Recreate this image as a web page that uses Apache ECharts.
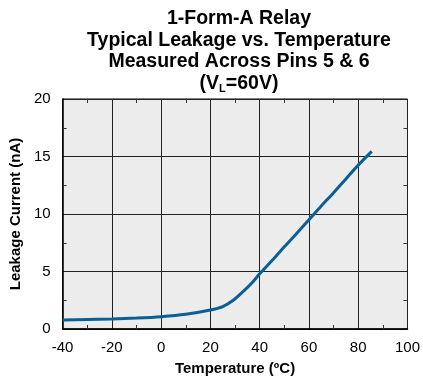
<!DOCTYPE html>
<html>
<head>
<meta charset="utf-8">
<script src="https://cdn.jsdelivr.net/npm/echarts@6/dist/echarts.min.js"></script>
<style>
  html, body { margin: 0; padding: 0; background: #fff; }
  #chart { width: 423px; height: 383px; }
</style>
</head>
<body>
<div id="chart"></div>
<script>
// temperature (C) and leakage current (nA)
const temps = [-40, -30, -20, -10, 0, 10, 20, 25, 29, 33, 37, 40, 45, 50, 55, 60, 65, 70, 75, 80, 85.5]
const leakage = [0.78, 0.83, 0.87, 0.95, 1.07, 1.28, 1.65, 1.95, 2.45, 3.2, 4.05, 4.8, 5.95, 7.15, 8.3, 9.5, 10.7, 11.85, 13.05, 14.25, 15.45]
const xTicks = [-40, -20, 0, 20, 40, 60, 80, 100]
const yTicks = [0, 5, 10, 15, 20]

const font = 'Liberation Sans, Arial, Helvetica, sans-serif'
const myChart = echarts.init(document.getElementById('chart'))

const option = {
  animation: false,
  title: {
    text: '1-Form-A Relay\nTypical Leakage vs. Temperature\nMeasured Across Pins 5 & 6\n(V{sub|L}=60V)',
    left: 234,
    top: 3,
    textAlign: 'center',
    textStyle: {
      fontFamily: font,
      fontSize: 19.5,
      fontWeight: 'bold',
      color: '#000',
      lineHeight: 21.5,
      rich: {
        sub: {
          fontFamily: font,
          fontSize: 11,
          fontWeight: 'bold',
          color: '#000',
          verticalAlign: 'bottom',
          padding: [12, 0, 0, 0]
        }
      }
    }
  },
  grid: {
    left: 62,
    right: 15,
    top: 99,
    bottom: 54,
    show: true,
    backgroundColor: '#ececec',
    borderColor: '#000',
    borderWidth: 1
  },
  xAxis: [
    {
      type: 'value',
      min: xTicks[0],
      max: xTicks[xTicks.length - 1],
      interval: 20,
      name: 'Temperature (ºC)',
      nameLocation: 'middle',
      nameGap: 32,
      nameTextStyle: { fontFamily: font, fontSize: 15, fontWeight: 'bold', color: '#000' },
      axisLine: { show: true, onZero: false, lineStyle: { color: '#000', width: 1.5 } },
      axisTick: { show: false, inside: true },
      minorTick: { show: true, splitNumber: 2, length: 4, lineStyle: { color: '#333' } },
      axisLabel: { fontFamily: font, fontSize: 15, color: '#000', margin: 11 },
      splitLine: { show: true, lineStyle: { color: '#222', width: 1 } }
    },
    {
      type: 'value',
      position: 'top',
      min: xTicks[0],
      max: xTicks[xTicks.length - 1],
      interval: 20,
      axisLine: { show: false, onZero: false },
      axisTick: { show: false, inside: true },
      minorTick: { show: true, splitNumber: 2, length: 4, lineStyle: { color: '#333' } },
      axisLabel: { show: false },
      splitLine: { show: false }
    }
  ],
  yAxis: [
    {
      type: 'value',
      min: yTicks[0],
      max: yTicks[yTicks.length - 1],
      interval: 5,
      name: 'Leakage Current (nA)',
      nameLocation: 'middle',
      nameGap: 36,
      nameTextStyle: { fontFamily: font, fontSize: 15, fontWeight: 'bold', color: '#000' },
      axisLine: { show: true, onZero: false, lineStyle: { color: '#000', width: 1.5 } },
      axisTick: { show: false, inside: true },
      minorTick: { show: true, splitNumber: 2, length: 4, lineStyle: { color: '#333' } },
      axisLabel: { fontFamily: font, fontSize: 15, color: '#000', margin: 12 },
      splitLine: { show: true, lineStyle: { color: '#222', width: 1 } }
    },
    {
      type: 'value',
      position: 'right',
      min: yTicks[0],
      max: yTicks[yTicks.length - 1],
      interval: 5,
      axisLine: { show: false, onZero: false },
      axisTick: { show: false, inside: true },
      minorTick: { show: true, splitNumber: 2, length: 4, lineStyle: { color: '#333' } },
      axisLabel: { show: false },
      splitLine: { show: false }
    }
  ],
  series: [
    {
      name: 'leakage',
      type: 'line',
      smooth: 0.3,
      showSymbol: false,
      xAxisIndex: 0,
      yAxisIndex: 0,
      color: '#0b5f95',
      lineStyle: { width: 3, color: '#0b5f95' },
      data: temps.map((t, i) => [t, leakage[i]])
    }
  ]
}
myChart.setOption(option)
</script>
</body>
</html>
